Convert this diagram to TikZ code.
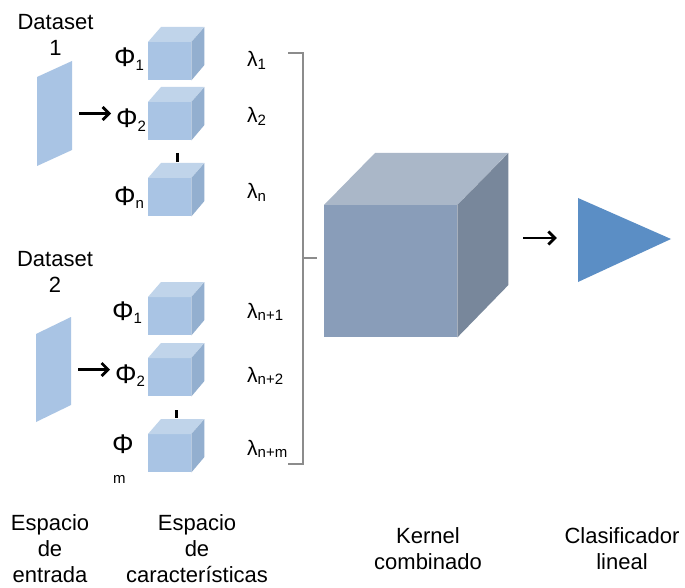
\documentclass[tikz,border=0pt]{standalone}
\usepackage{fontspec}
\setmainfont{Liberation Sans}
\usetikzlibrary{arrows.meta}

\definecolor{cubefront}{HTML}{A9C4E4}
\definecolor{cubetop}{HTML}{C0D4EA}
\definecolor{cubeside}{HTML}{93AFCF}
\definecolor{kfront}{HTML}{899DB9}
\definecolor{ktop}{HTML}{AAB7C8}
\definecolor{kside}{HTML}{78879B}
\definecolor{clfblue}{HTML}{5B8EC5}
\definecolor{brkgray}{HTML}{8C8C8C}

% smaller index text, slightly lowered
\newcommand\sbs[1]{\raisebox{-0.12em}{\fontsize{15}{15}\selectfont #1}}

% small feature-space cube: name, left x, top y of the front face
\newcommand\featcube[3]{%
  \node[inner sep=0pt, minimum width=43pt, minimum height=38pt,
        anchor=north west, fill=cubefront] (#1) at (#2,#3) {};
  \fill[cubetop] (#1.north west) -- ++(13,-15) -- ++(43,0) -- (#1.north east) -- cycle;
  \fill[cubeside] (#1.north east) -- ++(13,-15) -- ++(0,38) -- (#1.south east) -- cycle;
}

\begin{document}
\begin{tikzpicture}[x=1pt,y=-1pt,
  lbl/.style={inner sep=0pt, font=\fontsize{22}{26}\selectfont, align=center, anchor=base},
  philbl/.style={inner sep=0pt, font=\fontsize{27}{27}\selectfont, anchor=base west},
  lamlbl/.style={inner sep=0pt, font=\fontsize{21}{21}\selectfont, anchor=base west},
  sublbl/.style={inner sep=0pt, font=\fontsize{15}{15}\selectfont, anchor=base west},
  arr/.style={line width=2.8pt, -{Straight Barb[length=6.5pt,width=13pt]}},
  tickmark/.style={line width=3pt},
  brk/.style={draw=brkgray, line width=1.1pt}]

\useasboundingbox[fill=white] (0,0) rectangle (685,588);

% ---- input spaces
\fill[cubefront] (37,77) -- (72,61) -- (72,150) -- (37,166) -- cycle;
\node[inner sep=0pt, minimum width=35pt, minimum height=89pt] (in1) at (54.5,113.5) {};
\fill[cubefront] (36,334) -- (71,317) -- (71,405) -- (36,422) -- cycle;
\node[inner sep=0pt, minimum width=35pt, minimum height=88pt] (in2) at (53.5,369.5) {};

% multi-line labels are placed by the baseline of their last line
\node[lbl] (ds1) at (55.5,56) {Dataset\\1};
\node[lbl] (ds2) at (55,292) {Dataset\\2};

% ---- feature spaces, first dataset
\featcube{c11}{148}{42}
\featcube{c12}{148}{102}
\featcube{c1n}{148}{178}
\draw[tickmark] (177,153) -- (177,162);

\node[philbl] (phi11) at (114,67) {Φ\sbs{1}};
\node[philbl] (phi12) at (116,128) {Φ\sbs{2}};
\node[philbl] (phi1n) at (114,205) {Φ\sbs{n}};

% ---- feature spaces, second dataset
\featcube{c21}{148}{297}
\featcube{c22}{148}{358}
\featcube{c2m}{148}{434}
\draw[tickmark] (176,410) -- (176,418);

\node[philbl] (phi21) at (112,320) {Φ\sbs{1}};
\node[philbl] (phi22) at (115,383) {Φ\sbs{2}};
\node[philbl] (phi2m) at (112,453) {Φ};
\node[sublbl] (phim) at (113,483) {m};

% ---- arrows from input to feature space
\draw[arr, shorten <=7pt, shorten >=5pt] (in1.east) -- (in1.east -| phi12.west);
\draw[arr, shorten <=7pt, shorten >=5pt] (in2.east) -- (in2.east -| phi22.west);

% ---- kernel weights
\node[lamlbl] (l1) at (247,67) {λ\sbs{1}};
\node[lamlbl] (l2) at (247,123) {λ\sbs{2}};
\node[lamlbl] (ln) at (247,199) {λ\sbs{n}};
\node[lamlbl] (ln1) at (247,318) {λ\sbs{n+1}};
\node[lamlbl] (ln2) at (247,382) {λ\sbs{n+2}};
\node[lamlbl] (lnm) at (247,455) {λ\sbs{n+m}};

% bracket joining all weighted kernels
\draw[brk] (288,53) -- (303,53) -- (303,464) -- (288,464);
\draw[brk] (303,258) -- (317,258);

% ---- combined kernel
\node[inner sep=0pt, minimum width=133pt, minimum height=132pt,
      anchor=north west, fill=kfront] (kcube) at (324,205) {};
\fill[ktop] (kcube.north west) -- ++(51,-52) -- ++(133,0) -- (kcube.north east) -- cycle;
\fill[kside] (kcube.north east) -- ++(51,-52) -- ++(0,132) -- (kcube.south east) -- cycle;
\coordinate (kright) at (508,238);

% ---- linear classifier
\fill[clfblue] (578,198) -- (671,239) -- (578,282) -- cycle;
\node[inner sep=0pt, minimum width=93pt, minimum height=84pt] (clf) at (624.5,240) {};
\draw[arr, shorten <=15pt, shorten >=21pt] (kright) -- (kright -| clf.west);

% ---- captions
\node[lbl] (cap1) at (50,582) {Espacio\\de\\entrada};
\node[lbl] (cap2) at (197,582) {Espacio\\de\\características};
\node[lbl] (cap3) at (428,569) {Kernel\\combinado};
\node[lbl] (cap4) at (622,569) {Clasificador\\lineal};
\end{tikzpicture}
\end{document}
